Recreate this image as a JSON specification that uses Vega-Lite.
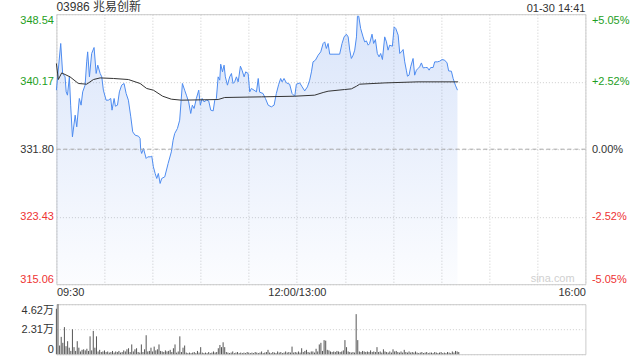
{
  "$schema": "https://vega.github.io/schema/vega-lite/v6.json",
  "autosize": {"type": "pad"},
  "padding": {"left": 18.4, "top": 0.2, "right": 4, "bottom": 4},
  "background": "white",
  "bounds": "flush",
  "spacing": 20,
  "config": {
    "font": "'Liberation Sans', 'Noto Sans CJK SC', sans-serif",
    "view": {"stroke": "#cccccc"},
    "axis": {"labelFont": "'Liberation Sans', 'Noto Sans CJK SC', sans-serif", "labelFontSize": 11, "labelColor": "#333333", "ticks": false, "domain": false, "gridColor": "#cccccc", "gridDash": [1, 2], "title": null, "labelOverlap": false}
  },
  "datasets": {
    "price": [
      {"m":0,"p":339.12},{"m":2.7,"p":344.91},{"m":3.9,"p":341.19},{"m":5.4,"p":340.77},{"m":6.1,"p":338.91},{"m":6.9,"p":338.5},{"m":8.1,"p":340.77},{"m":8.9,"p":337.26},{"m":10,"p":333.33},{"m":11.7,"p":336.02},{"m":12.7,"p":334.57},{"m":14.3,"p":338.09},{"m":15.4,"p":337.26},{"m":16.4,"p":338.91},{"m":17.9,"p":339.74},{"m":18.9,"p":342.63},{"m":19.5,"p":343.87},{"m":20.6,"p":340.77},{"m":22,"p":343.67},{"m":23.5,"p":344.41},{"m":24.8,"p":341.19},{"m":25.8,"p":342.22},{"m":27.3,"p":341.19},{"m":28.3,"p":340.77},{"m":29.3,"p":339.12},{"m":31,"p":337.88},{"m":32.4,"p":337.88},{"m":33.9,"p":338.09},{"m":34.7,"p":336.64},{"m":36,"p":338.09},{"m":36.8,"p":337.13},{"m":38.1,"p":337.26},{"m":39.3,"p":338.91},{"m":40.7,"p":339.74},{"m":42.2,"p":339.95},{"m":43.5,"p":338.71},{"m":44.9,"p":337.88},{"m":46.4,"p":335.81},{"m":47.6,"p":333.95},{"m":49.1,"p":333.54},{"m":51.2,"p":333.41},{"m":52.2,"p":333.13},{"m":52.6,"p":331.68},{"m":53.2,"p":331.27},{"m":54.3,"p":331.89},{"m":56,"p":330.65},{"m":57,"p":330.85},{"m":58.5,"p":330.85},{"m":59.5,"p":330.93},{"m":60.5,"p":329.61},{"m":61.6,"p":328.79},{"m":62.6,"p":328.17},{"m":63.6,"p":328.79},{"m":64.7,"p":327.55},{"m":65.7,"p":328.17},{"m":67.6,"p":328.37},{"m":69.7,"p":330.03},{"m":71.7,"p":331.47},{"m":72.8,"p":332.92},{"m":73.8,"p":333.75},{"m":75.5,"p":334.37},{"m":76.9,"p":335.4},{"m":78.6,"p":339.95},{"m":80,"p":339.12},{"m":81.1,"p":338.5},{"m":82.5,"p":337.67},{"m":83.8,"p":336.23},{"m":84.8,"p":337.26},{"m":85.9,"p":336.85},{"m":87.3,"p":338.09},{"m":88.8,"p":339.12},{"m":89.8,"p":337.26},{"m":90.9,"p":338.09},{"m":92.1,"p":337.67},{"m":93.6,"p":337.88},{"m":95,"p":337.79},{"m":96.3,"p":336.64},{"m":97.8,"p":336.55},{"m":98.8,"p":337.88},{"m":99.8,"p":338.09},{"m":100.9,"p":340.77},{"m":101.9,"p":340.36},{"m":102.5,"p":342.34},{"m":103.6,"p":341.39},{"m":104.6,"p":342.22},{"m":105.4,"p":340.77},{"m":106.7,"p":339.74},{"m":108.1,"p":340.77},{"m":109.2,"p":341.19},{"m":110.2,"p":339.95},{"m":111.2,"p":340.15},{"m":112.3,"p":340.77},{"m":113.4,"p":340.15},{"m":114.8,"p":342.09},{"m":115.8,"p":341.6},{"m":117.1,"p":340.77},{"m":118.1,"p":341.39},{"m":119.6,"p":341.19},{"m":120.6,"p":338.91},{"m":121.6,"p":339.33},{"m":123.3,"p":339.12},{"m":124.8,"p":338.91},{"m":125.9,"p":340.57},{"m":126.8,"p":338.87},{"m":128.9,"p":338.71},{"m":130.4,"p":338.09},{"m":132.1,"p":337.26},{"m":134.1,"p":337.05},{"m":135.8,"p":337.26},{"m":137.2,"p":338.71},{"m":138.7,"p":339.86},{"m":139.9,"p":340.57},{"m":140.8,"p":340.15},{"m":142,"p":340.57},{"m":143.5,"p":340.02},{"m":145.5,"p":339.86},{"m":147,"p":338.71},{"m":148.7,"p":338.37},{"m":149.7,"p":339.86},{"m":151.8,"p":340.02},{"m":153.3,"p":339.53},{"m":154.9,"p":339.03},{"m":156.6,"p":339.53},{"m":158,"p":340.36},{"m":159.1,"p":341.39},{"m":160.1,"p":342.63},{"m":161.6,"p":342.84},{"m":163.3,"p":343.46},{"m":164.9,"p":343.87},{"m":166.4,"p":344.91},{"m":167.4,"p":345.11},{"m":168.4,"p":344.29},{"m":169.5,"p":344.91},{"m":170.5,"p":343.58},{"m":172.6,"p":343.58},{"m":176.7,"p":343.58},{"m":178.2,"p":344.91},{"m":179.5,"p":345.73},{"m":180.9,"p":346.06},{"m":182,"p":345.73},{"m":183,"p":344.08},{"m":184,"p":343.05},{"m":185.1,"p":343.46},{"m":186.1,"p":344.08},{"m":187.2,"p":345.73},{"m":187.8,"p":348.29},{"m":188.6,"p":348.29},{"m":189.8,"p":346.77},{"m":191.3,"p":345.73},{"m":192.3,"p":345.11},{"m":193.4,"p":345.23},{"m":194.5,"p":344.7},{"m":195.4,"p":344.91},{"m":196.9,"p":346.06},{"m":197.9,"p":344.91},{"m":199,"p":345.4},{"m":200.2,"p":343.67},{"m":201.3,"p":343.25},{"m":202.3,"p":343.67},{"m":203.4,"p":342.92},{"m":204.8,"p":345.73},{"m":205.9,"p":345.11},{"m":206.9,"p":344.08},{"m":207.9,"p":344.7},{"m":209.6,"p":344.57},{"m":210.7,"p":346.97},{"m":211.7,"p":346.77},{"m":213.2,"p":345.94},{"m":214.2,"p":343.67},{"m":215.2,"p":343.87},{"m":216.3,"p":344.16},{"m":217.3,"p":342.63},{"m":218.3,"p":341.6},{"m":219,"p":340.85},{"m":220,"p":340.98},{"m":221,"p":342.01},{"m":222.5,"p":343.05},{"m":223.5,"p":340.98},{"m":224.6,"p":341.6},{"m":225.6,"p":341.81},{"m":226.6,"p":342.01},{"m":227.7,"p":342.5},{"m":228.8,"p":341.88},{"m":230.2,"p":341.93},{"m":231.4,"p":341.93},{"m":232.5,"p":341.6},{"m":233.5,"p":341.93},{"m":235,"p":341.93},{"m":236,"p":342.63},{"m":237.7,"p":342.63},{"m":239.1,"p":342.71},{"m":240.6,"p":342.92},{"m":242.2,"p":342.84},{"m":243.7,"p":342.5},{"m":244.7,"p":341.51},{"m":246.4,"p":341.47},{"m":247.5,"p":340.57},{"m":248.9,"p":339.74},{"m":250.2,"p":339.12}
    ],
    "avg": [
      {"m":0,"a":342.43},{"m":1.2,"a":340.44},{"m":3.3,"a":341.26},{"m":8.5,"a":340.77},{"m":13.7,"a":339.95},{"m":18.9,"a":339.86},{"m":23.1,"a":340.44},{"m":27.3,"a":340.64},{"m":35.6,"a":340.57},{"m":44.9,"a":340.44},{"m":52.2,"a":339.95},{"m":56.3,"a":339.33},{"m":60.5,"a":339.12},{"m":66.3,"a":338.37},{"m":71.7,"a":338.0},{"m":78,"a":337.88},{"m":100.9,"a":337.96},{"m":105,"a":338.21},{"m":127.9,"a":338.29},{"m":148.7,"a":338.37},{"m":161.1,"a":338.5},{"m":166.4,"a":338.83},{"m":169.5,"a":338.99},{"m":179.8,"a":339.2},{"m":184,"a":339.28},{"m":187.2,"a":339.61},{"m":189.2,"a":339.86},{"m":204.8,"a":340.02},{"m":225.6,"a":340.15},{"m":250.6,"a":340.15}
    ],
    "vol": [
      {"m":0,"v":42000},{"m":1,"v":46200},{"m":2,"v":8000},{"m":3,"v":16000},{"m":4,"v":10500},{"m":5,"v":25000},{"m":6,"v":7400},{"m":7,"v":12000},{"m":8,"v":6000},{"m":9,"v":3000},{"m":10,"v":23000},{"m":11,"v":6500},{"m":12,"v":3000},{"m":13,"v":12000},{"m":14,"v":6000},{"m":15,"v":2500},{"m":16,"v":4000},{"m":17,"v":4500},{"m":18,"v":3500},{"m":19,"v":5000},{"m":20,"v":3000},{"m":21,"v":16500},{"m":22,"v":3500},{"m":23,"v":21500},{"m":24,"v":6000},{"m":25,"v":16500},{"m":26,"v":2500},{"m":27,"v":4000},{"m":28,"v":2000},{"m":29,"v":2500},{"m":30,"v":3500},{"m":31,"v":2000},{"m":32,"v":2500},{"m":33,"v":1500},{"m":34,"v":2000},{"m":35,"v":3000},{"m":36,"v":1500},{"m":37,"v":2500},{"m":38,"v":2000},{"m":39,"v":3000},{"m":40,"v":1500},{"m":41,"v":2000},{"m":42,"v":3500},{"m":43,"v":2500},{"m":44,"v":4500},{"m":45,"v":5500},{"m":46,"v":2000},{"m":47,"v":9000},{"m":48,"v":2500},{"m":49,"v":4500},{"m":50,"v":5500},{"m":51,"v":2000},{"m":52,"v":1500},{"m":53,"v":9000},{"m":54,"v":2000},{"m":55,"v":4500},{"m":56,"v":17500},{"m":57,"v":2500},{"m":58,"v":3000},{"m":59,"v":6000},{"m":60,"v":2500},{"m":61,"v":7000},{"m":62,"v":3500},{"m":63,"v":4500},{"m":64,"v":9000},{"m":65,"v":3000},{"m":66,"v":2500},{"m":67,"v":2000},{"m":68,"v":3500},{"m":69,"v":2500},{"m":70,"v":3000},{"m":71,"v":4000},{"m":72,"v":2000},{"m":73,"v":5500},{"m":74,"v":9000},{"m":75,"v":1500},{"m":76,"v":2500},{"m":77,"v":16500},{"m":78,"v":2000},{"m":79,"v":6000},{"m":80,"v":8000},{"m":81,"v":1500},{"m":82,"v":1000},{"m":83,"v":1500},{"m":84,"v":1000},{"m":85,"v":1500},{"m":86,"v":2000},{"m":87,"v":1000},{"m":88,"v":3000},{"m":89,"v":1500},{"m":90,"v":6500},{"m":91,"v":1500},{"m":92,"v":1000},{"m":93,"v":1500},{"m":94,"v":1000},{"m":95,"v":2000},{"m":96,"v":1000},{"m":97,"v":1500},{"m":98,"v":2500},{"m":99,"v":1500},{"m":100,"v":2000},{"m":101,"v":5500},{"m":102,"v":8500},{"m":103,"v":6500},{"m":104,"v":11000},{"m":105,"v":6500},{"m":106,"v":2000},{"m":107,"v":1500},{"m":108,"v":1000},{"m":109,"v":1500},{"m":110,"v":2500},{"m":111,"v":1000},{"m":112,"v":1500},{"m":113,"v":2000},{"m":114,"v":1000},{"m":115,"v":1500},{"m":116,"v":1000},{"m":117,"v":1500},{"m":118,"v":1000},{"m":119,"v":2000},{"m":120,"v":1500},{"m":121,"v":1000},{"m":122,"v":1500},{"m":123,"v":1000},{"m":124,"v":2000},{"m":125,"v":1500},{"m":126,"v":1000},{"m":127,"v":1500},{"m":128,"v":2500},{"m":129,"v":1000},{"m":130,"v":1500},{"m":131,"v":2000},{"m":132,"v":4000},{"m":133,"v":1500},{"m":134,"v":1000},{"m":135,"v":2000},{"m":136,"v":1500},{"m":137,"v":1000},{"m":138,"v":2500},{"m":139,"v":1500},{"m":140,"v":2000},{"m":141,"v":1000},{"m":142,"v":1500},{"m":143,"v":2500},{"m":144,"v":1500},{"m":145,"v":2000},{"m":146,"v":1500},{"m":147,"v":7000},{"m":148,"v":1500},{"m":149,"v":2000},{"m":150,"v":1500},{"m":151,"v":2500},{"m":152,"v":1500},{"m":153,"v":5500},{"m":154,"v":2000},{"m":155,"v":3000},{"m":156,"v":4000},{"m":157,"v":2000},{"m":158,"v":1500},{"m":159,"v":2500},{"m":160,"v":2500},{"m":161,"v":1500},{"m":162,"v":5000},{"m":163,"v":2500},{"m":164,"v":9000},{"m":165,"v":10500},{"m":166,"v":3000},{"m":167,"v":13000},{"m":168,"v":12500},{"m":169,"v":4000},{"m":170,"v":3500},{"m":171,"v":2500},{"m":172,"v":2000},{"m":173,"v":2500},{"m":174,"v":2000},{"m":175,"v":3000},{"m":176,"v":2500},{"m":177,"v":2000},{"m":178,"v":2500},{"m":179,"v":3500},{"m":180,"v":13000},{"m":181,"v":6500},{"m":182,"v":2500},{"m":183,"v":2000},{"m":184,"v":1500},{"m":185,"v":2000},{"m":186,"v":1500},{"m":187,"v":37000},{"m":188,"v":13000},{"m":189,"v":2500},{"m":190,"v":2000},{"m":191,"v":3000},{"m":192,"v":2500},{"m":193,"v":2000},{"m":194,"v":2500},{"m":195,"v":2000},{"m":196,"v":3500},{"m":197,"v":2000},{"m":198,"v":2500},{"m":199,"v":2000},{"m":200,"v":6500},{"m":201,"v":2000},{"m":202,"v":2500},{"m":203,"v":1500},{"m":204,"v":4500},{"m":205,"v":2500},{"m":206,"v":2000},{"m":207,"v":1500},{"m":208,"v":2500},{"m":209,"v":1500},{"m":210,"v":4500},{"m":211,"v":2500},{"m":212,"v":3000},{"m":213,"v":2000},{"m":214,"v":1500},{"m":215,"v":2500},{"m":216,"v":1500},{"m":217,"v":4000},{"m":218,"v":2000},{"m":219,"v":1500},{"m":220,"v":2500},{"m":221,"v":1500},{"m":222,"v":2000},{"m":223,"v":1500},{"m":224,"v":2500},{"m":225,"v":1500},{"m":226,"v":1000},{"m":227,"v":1500},{"m":228,"v":2000},{"m":229,"v":1000},{"m":230,"v":1500},{"m":231,"v":2000},{"m":232,"v":1000},{"m":233,"v":1500},{"m":234,"v":1500},{"m":235,"v":1000},{"m":236,"v":2000},{"m":237,"v":1500},{"m":238,"v":1000},{"m":239,"v":1500},{"m":240,"v":2000},{"m":241,"v":1000},{"m":242,"v":1500},{"m":243,"v":1000},{"m":244,"v":2000},{"m":245,"v":1500},{"m":246,"v":1000},{"m":247,"v":2500},{"m":248,"v":1500},{"m":249,"v":3000},{"m":250,"v":2500},{"m":251,"v":2000}
    ]
  },
  "vconcat": [
    {
      "width": 529,
      "height": 270,
      "resolve": {"scale": {"y": "independent"}},
      "layer": [
        {
          "layer": [
            {
              "data": {"name": "price"},
              "mark": {"type": "area", "fill": {"gradient": "linear", "x1": 0, "y1": 0, "x2": 0, "y2": 1, "stops": [{"offset": 0, "color": "rgba(70,125,230,0.2)"}, {"offset": 1, "color": "rgba(70,125,230,0.02)"}]}},
              "encoding": {
                "x": {"field": "m", "type": "quantitative", "scale": {"domain": [0, 330], "nice": false, "zero": false},
                  "axis": {"values": [0, 30, 60, 90, 120, 150, 180, 210, 240, 270, 300, 330], "grid": true, "labelFlush": true, "labelPadding": 2,
                    "labelExpr": "datum.value == 0 ? '09:30' : datum.value == 150 ? '12:00/13:00' : datum.value == 330 ? '16:00' : ''"}},
                "y": {"field": "p", "type": "quantitative", "scale": {"domain": [315.06, 348.54], "nice": false, "zero": false},
                  "axis": {"values": [315.06, 323.43, 331.8, 340.17, 348.54], "format": ".2f", "grid": true, "labelFlush": true, "labelPadding": 3,
                    "labelColor": {"condition": [{"test": "datum.value > 332", "value": "#1e9e1e"}, {"test": "datum.value < 331", "value": "#ee3333"}], "value": "#333333"}}},
                "y2": {"datum": 315.06}
              }
            },
            {
              "data": {"name": "price"},
              "mark": {"type": "line", "color": "#4d8cf0", "strokeWidth": 1},
              "encoding": {
                "x": {"field": "m", "type": "quantitative"},
                "y": {"field": "p", "type": "quantitative"}
              }
            },
            {
              "data": {"name": "avg"},
              "mark": {"type": "line", "color": "#333333", "strokeWidth": 1},
              "encoding": {
                "x": {"field": "m", "type": "quantitative"},
                "y": {"field": "a", "type": "quantitative"}
              }
            },
            {
              "data": {"values": [{"t": "03986 兆易创新"}]},
              "mark": {"type": "text", "align": "left", "baseline": "top", "fontSize": 12, "color": "#333333"},
              "encoding": {
                "x": {"datum": 0},
                "y": {"datum": 350.0},
                "text": {"field": "t"}
              }
            },
            {
              "data": {"values": [{"t": "01-30 14:41"}]},
              "mark": {"type": "text", "align": "right", "baseline": "top", "fontSize": 11, "color": "#333333"},
              "encoding": {
                "x": {"datum": 330},
                "y": {"datum": 349.9},
                "text": {"field": "t"}
              }
            },
            {
              "data": {"values": [{"t": "sina.com"}]},
              "mark": {"type": "text", "align": "right", "baseline": "alphabetic", "fontSize": 11, "color": "#d0d0d0"},
              "encoding": {
                "x": {"datum": 323.3},
                "y": {"datum": 315.3},
                "text": {"field": "t"}
              }
            }
          ]
        },
        {
          "data": {"values": [{"z": 0}]},
          "mark": {"type": "rule", "color": "#aaaaaa", "strokeDash": [4, 3], "strokeWidth": 1},
          "encoding": {
            "y": {"field": "z", "type": "quantitative", "scale": {"domain": [-5.05, 5.05], "nice": false, "zero": false},
              "axis": {"orient": "right", "values": [-5.05, -2.52, 0, 2.52, 5.05], "grid": false, "labelFlush": true, "labelPadding": 6,
                "labelExpr": "(datum.value > 0 ? '+' : datum.value < 0 ? '-' : '') + format(abs(datum.value), '.2f') + '%'",
                "labelColor": {"condition": [{"test": "datum.value > 0.1", "value": "#1e9e1e"}, {"test": "datum.value < -0.1", "value": "#ee3333"}], "value": "#333333"}}}
          }
        }
      ]
    },
    {
      "width": 529,
      "height": 50,
      "data": {"name": "vol"},
      "mark": {"type": "rule", "color": "#555555", "strokeWidth": 1},
      "encoding": {
        "x": {"field": "m", "type": "quantitative", "scale": {"domain": [0, 330], "nice": false, "zero": false}, "axis": null},
        "y": {"field": "v", "type": "quantitative", "scale": {"domain": [0, 46200], "nice": false},
          "axis": {"values": [0, 23100, 46200], "grid": true, "labelFlush": true, "labelPadding": 3,
            "labelExpr": "datum.value == 0 ? '0' : format(datum.value / 10000, '.2f') + '万'"}},
        "y2": {"datum": 0}
      }
    }
  ]
}
